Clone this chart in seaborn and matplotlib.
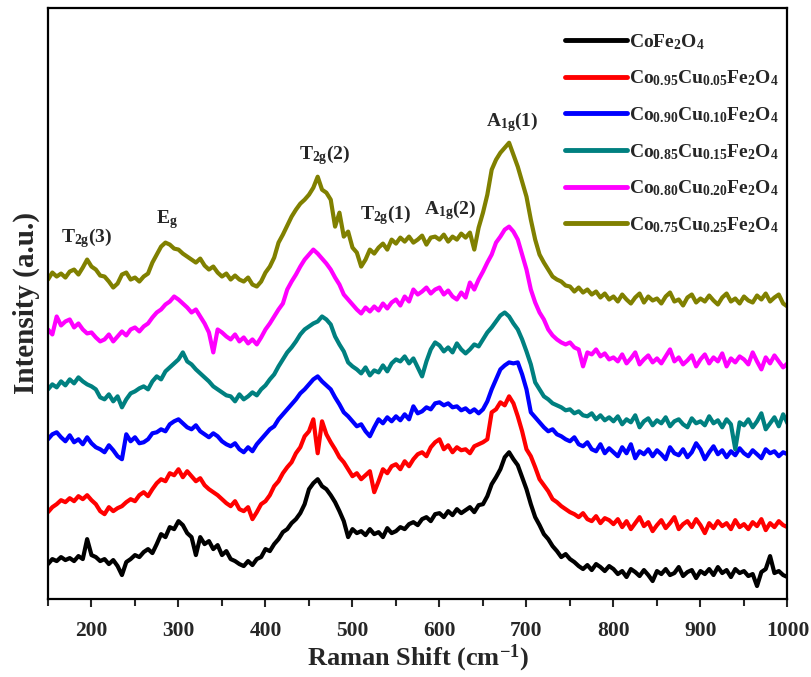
import numpy as np
import pandas as pd
import matplotlib
matplotlib.use("Agg")
import matplotlib.pyplot as plt
import seaborn as sns
from matplotlib.ticker import MultipleLocator

# Raman shift grid (cm^-1)
shift = np.arange(150, 1001, 5)

samples = [r"$\mathbf{CoFe_2O_4}$",
           r"$\mathbf{Co_{0.95}Cu_{0.05}Fe_2O_4}$",
           r"$\mathbf{Co_{0.90}Cu_{0.10}Fe_2O_4}$",
           r"$\mathbf{Co_{0.85}Cu_{0.15}Fe_2O_4}$",
           r"$\mathbf{Co_{0.80}Cu_{0.20}Fe_2O_4}$",
           r"$\mathbf{Co_{0.75}Cu_{0.25}Fe_2O_4}$"]
colors = ["#000000", "#FF0000", "#0000FF", "#008080", "#FF00FF", "#808000"]

# stacked intensities (a.u.)
black = [35, 40, 38, 42, 39, 41, 38, 43, 40, 60,
         44, 42, 38, 40, 35, 39, 33, 24, 37, 40,
         44, 42, 47, 50, 46, 55, 65, 62, 72, 70,
         78, 74, 66, 62, 44, 62, 55, 58, 50, 54,
         44, 48, 40, 38, 35, 33, 38, 34, 40, 42,
         50, 48, 55, 60, 67, 70, 76, 80, 86, 95,
         110, 116, 120, 113, 110, 104, 97, 88, 78, 62,
         70, 66, 68, 64, 70, 65, 67, 62, 71, 66,
         68, 72, 70, 75, 77, 74, 80, 82, 78, 85,
         86, 82, 88, 84, 90, 86, 89, 92, 87, 94,
         95, 103, 115, 122, 130, 142, 147, 140, 134, 122,
         110, 95, 82, 74, 65, 60, 53, 48, 42, 45,
         40, 37, 33, 30, 34, 29, 35, 32, 28, 33,
         30, 25, 28, 22, 30, 27, 23, 29, 24, 18,
         28, 25, 30, 24, 26, 32, 23, 27, 29, 21,
         28, 25, 30, 24, 32, 26, 29, 22, 30, 26,
         28, 23, 25, 13, 27, 30, 43, 26, 28, 24,
         22]
red = [87, 92, 95, 99, 97, 101, 98, 103, 100, 104,
       99, 95, 88, 85, 92, 88, 91, 93, 97, 100,
       98, 104, 107, 103, 110, 116, 120, 118, 126, 124,
       130, 122, 128, 123, 118, 121, 114, 110, 107, 104,
       100, 96, 93, 98, 90, 88, 92, 80, 87, 95,
       98, 104, 113, 118, 126, 132, 137, 146, 152, 163,
       168, 180, 146, 178, 165, 157, 150, 142, 137, 130,
       123, 126, 120, 124, 128, 107, 118, 130, 126, 133,
       135, 130, 138, 133, 140, 145, 147, 143, 152, 157,
       160, 150, 154, 147, 152, 149, 150, 146, 153, 155,
       157, 160, 187, 190, 197, 194, 203, 196, 183, 168,
       150, 143, 132, 120, 114, 108, 100, 97, 93, 90,
       87, 85, 82, 86, 80, 78, 83, 76, 81, 79,
       75, 80, 72, 78, 70, 76, 82, 73, 77, 68,
       74, 79, 71, 76, 82, 70, 75, 78, 72, 80,
       74, 66, 76, 71, 78, 73, 76, 70, 79, 72,
       75, 70, 77, 73, 80, 69, 76, 72, 78, 74,
       72]
blue = [160, 165, 167, 162, 158, 164, 157, 160, 155, 162,
        156, 152, 150, 147, 154, 149, 143, 140, 165, 158,
        162, 156, 157, 160, 166, 167, 170, 168, 175, 178,
        180, 176, 172, 170, 174, 168, 165, 162, 166, 163,
        158, 155, 153, 156, 150, 147, 152, 148, 155, 160,
        165, 170, 173, 180, 185, 190, 195, 200, 206, 210,
        215, 220, 223, 218, 214, 210, 202, 195, 187, 183,
        178, 173, 175, 168, 163, 172, 180, 176, 182, 178,
        183, 179, 185, 180, 193, 186, 188, 192, 190, 196,
        197, 194, 196, 192, 193, 189, 191, 187, 190, 186,
        190, 198, 210, 220, 230, 234, 237, 236, 237, 225,
        210, 187, 182, 177, 172, 168, 170, 165, 163, 160,
        158, 162, 155, 153, 157, 150, 148, 155, 146, 151,
        147, 143, 152, 146, 155, 141, 148, 145, 150, 143,
        149, 145, 140, 152, 146, 144, 150, 142, 147, 156,
        150, 140, 147, 153, 145, 149, 142, 148, 144, 151,
        146, 143, 149, 145, 141, 150, 146, 148, 143, 147,
        145]
teal = [210, 215, 212, 218, 214, 220, 216, 222, 218, 215,
        213, 210, 202, 200, 205, 198, 203, 192, 200, 206,
        208, 211, 213, 210, 218, 223, 220, 228, 232, 236,
        240, 247, 238, 235, 230, 226, 222, 218, 213, 210,
        207, 204, 203, 198, 205, 200, 203, 207, 204, 210,
        214, 220, 225, 233, 240, 247, 252, 258, 265, 270,
        273, 276, 278, 283, 280, 275, 263, 255, 248, 237,
        233, 230, 226, 232, 224, 229, 227, 234, 228, 236,
        240, 238, 243, 236, 241, 232, 223, 238, 250, 257,
        254, 248, 252, 247, 256, 250, 246, 250, 255, 253,
        260, 267, 272, 278, 284, 287, 283, 276, 270, 260,
        248, 235, 217, 210, 203, 200, 196, 194, 192, 189,
        190, 186, 188, 184, 183, 186, 180, 184, 179, 182,
        178, 183, 175, 180, 177, 184, 172, 178, 181, 174,
        179, 176, 182, 173, 178, 180, 175, 172, 181, 176,
        178, 174, 183, 176, 179, 172, 180, 175, 150, 177,
        174, 180, 172, 178, 186, 170, 176, 182, 173, 185,
        176]
magenta = [270, 265, 283, 274, 278, 280, 272, 276, 270, 266,
           267, 262, 258, 260, 265, 258, 263, 268, 264, 270,
           272, 268, 273, 276, 282, 287, 290, 295, 298, 303,
           300, 296, 292, 287, 290, 283, 276, 267, 247, 270,
           267, 263, 260, 265, 258, 262, 256, 260, 255, 262,
           270, 276, 283, 290, 296, 310, 318, 325, 333, 340,
           345, 350, 346, 341, 336, 330, 322, 315, 305, 300,
           295, 290, 286, 292, 288, 293, 289, 296, 291, 297,
           300, 294, 303, 298, 310, 305, 308, 312, 306, 310,
           312, 305, 309, 303, 300, 307, 302, 317, 310, 320,
           328, 337, 345, 357, 363, 370, 373, 368, 360, 345,
           330, 310, 297, 287, 280, 270, 264, 260, 257, 255,
           257, 252, 250, 233, 247, 245, 250, 243, 246, 240,
           242, 238, 245, 236, 241, 247, 235, 240, 244, 237,
           241, 236, 243, 250, 238, 242, 235, 239, 244, 233,
           240, 245, 236, 242, 238, 246, 233, 241, 237, 243,
           240, 235, 247, 238, 230, 242, 236, 244, 238, 232,
           236]
olive = [320, 327, 323, 326, 322, 328, 330, 325, 332, 340,
         333, 330, 324, 323, 318, 312, 316, 325, 327, 320,
         322, 318, 323, 326, 337, 345, 353, 357, 355, 351,
         350, 346, 343, 340, 337, 341, 334, 330, 333, 327,
         323, 326, 320, 324, 320, 318, 322, 315, 313, 318,
         327, 333, 342, 357, 365, 374, 383, 390, 396, 400,
         405, 412, 423, 410, 407, 400, 373, 387, 363, 368,
         352, 347, 333, 340, 350, 346, 352, 356, 350, 360,
         356, 362, 358, 363, 357, 360, 364, 355, 362, 363,
         360, 365, 358, 363, 360, 366, 362, 367, 350, 372,
         387, 405, 430, 440, 447, 452, 457, 445, 433, 418,
         403, 380, 360, 345, 337, 330, 323, 320, 318, 314,
         313, 308, 312, 307, 310, 305, 308, 302, 306, 300,
         303, 298, 305, 300, 296, 302, 306, 297, 303, 299,
         301, 296, 303, 307, 298, 300, 294, 302, 305, 297,
         301, 298, 304, 299, 295, 302, 306, 298, 301, 296,
         303, 299, 297, 304, 300, 306, 298, 302, 305, 296,
         293]

series = [black, red, blue, teal, magenta, olive]
df = pd.concat([pd.DataFrame({"shift": shift, "intensity": s, "sample": name})
                for s, name in zip(series, samples)], ignore_index=True)

peak_names = [r"$\mathbf{T_{2g}(3)}$", r"$\mathbf{E_g}$", r"$\mathbf{T_{2g}(2)}$",
              r"$\mathbf{T_{2g}(1)}$", r"$\mathbf{A_{1g}(2)}$", r"$\mathbf{A_{1g}(1)}$"]
peak_pos = [(194, 362), (287, 380), (468, 445), (538, 385), (612, 390), (684, 478)]

sns.set_theme(style="ticks")
plt.rcParams["font.family"] = ["Liberation Serif", "DejaVu Serif"]
plt.rcParams["font.weight"] = "bold"
plt.rcParams["mathtext.fontset"] = "custom"
plt.rcParams["mathtext.rm"] = "Liberation Serif:bold"
plt.rcParams["mathtext.bf"] = "Liberation Serif:bold"
plt.rcParams["mathtext.it"] = "Liberation Serif:bold:italic"

fig = plt.figure(figsize=(8.12, 6.77), dpi=100)
ax = fig.add_axes([0.0591, 0.1152, 0.9107, 0.873])

sns.lineplot(data=df, x="shift", y="intensity", hue="sample", hue_order=samples,
             palette=colors, linewidth=3, sort=False, estimator=None, ax=ax,
             legend=False)

ax.set_xlim(150, 1000)
ax.set_ylim(0, 592)
ax.xaxis.set_major_locator(MultipleLocator(100))
ax.xaxis.set_minor_locator(MultipleLocator(50))
ax.set_xticks([200, 300, 400, 500, 600, 700, 800, 900, 1000])
ax.set_yticks([])
ax.tick_params(axis="x", which="major", direction="out", length=6, width=1.5,
               labelsize=15.5, pad=10)
ax.tick_params(axis="x", which="minor", direction="out", length=5, width=1.5)
for lab in ax.get_xticklabels():
    lab.set_fontweight("bold")
for sp in ax.spines.values():
    sp.set_visible(True)
    sp.set_linewidth(1.6)
    sp.set_color("black")

ax.set_xlabel(r"Raman Shift (cm$^{\mathbf{-1}}$)", fontsize=19, fontweight="bold", labelpad=1)
ax.set_ylabel("Intensity (a.u.)", fontsize=21, fontweight="bold", labelpad=6)

for name, (px, py) in zip(peak_names, peak_pos):
    ax.text(px, py, name, ha="center", va="center", fontsize=14)

handles = [plt.Line2D([], [], color=c, linewidth=3.5) for c in colors]
ax.legend(handles, samples, loc="upper right", bbox_to_anchor=(1.004, 0.979),
          frameon=False, fontsize=14, handlelength=3.2, handletextpad=0.1,
          labelspacing=0.87, borderaxespad=0.2)

fig.savefig("out.png", dpi=100)
